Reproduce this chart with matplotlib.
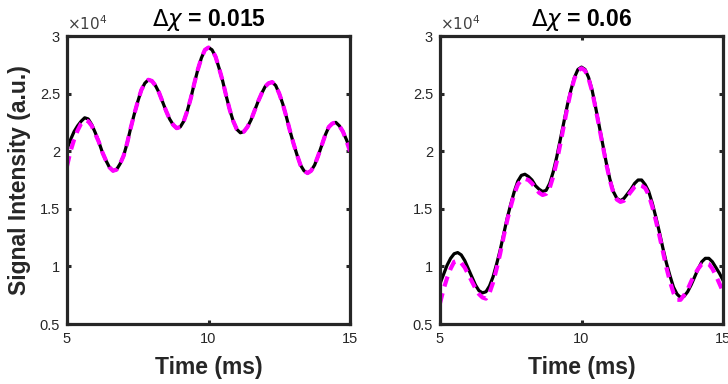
import numpy as np
import matplotlib
matplotlib.use("Agg")
import matplotlib.pyplot as plt

plt.rcParams.update({
    "font.family": ["Liberation Sans", "DejaVu Sans"],
    "mathtext.fontset": "dejavusans",
    "lines.scale_dashes": False,
})

DARK = "#262626"
MAGENTA = "#ff00ff"

# time axis (ms), 0.125 ms steps
t = np.arange(5, 15.001, 0.125)

# signal (x1e4), dchi = 0.015
sig_015_meas = [2.02, 2.10, 2.17, 2.22, 2.26, 2.29, 2.28, 2.23, 2.16, 2.08,
                1.99, 1.92, 1.86, 1.83, 1.84, 1.89, 1.96, 2.07, 2.20, 2.32,
                2.43, 2.53, 2.59, 2.62, 2.61, 2.57, 2.51, 2.43, 2.35, 2.28,
                2.23, 2.20, 2.21, 2.26, 2.35, 2.46, 2.59, 2.71, 2.81, 2.88,
                2.90, 2.88, 2.82, 2.72, 2.61, 2.48, 2.36, 2.26, 2.19, 2.16,
                2.17, 2.21, 2.27, 2.35, 2.43, 2.50, 2.56, 2.59, 2.60, 2.57,
                2.50, 2.41, 2.30, 2.18, 2.07, 1.97, 1.88, 1.83, 1.81, 1.83,
                1.88, 1.96, 2.05, 2.14, 2.21, 2.24, 2.25, 2.22, 2.17, 2.10,
                2.02]
sig_015_fit = [1.87, 2.00, 2.10, 2.18, 2.24, 2.27, 2.26, 2.22, 2.15, 2.08,
               1.99, 1.92, 1.86, 1.83, 1.84, 1.89, 1.96, 2.07, 2.20, 2.32,
               2.43, 2.53, 2.59, 2.62, 2.61, 2.57, 2.51, 2.43, 2.35, 2.28,
               2.23, 2.20, 2.21, 2.26, 2.35, 2.46, 2.59, 2.71, 2.81, 2.88,
               2.90, 2.88, 2.82, 2.72, 2.61, 2.48, 2.36, 2.26, 2.19, 2.16,
               2.17, 2.21, 2.27, 2.35, 2.43, 2.50, 2.56, 2.59, 2.60, 2.57,
               2.50, 2.41, 2.30, 2.18, 2.07, 1.97, 1.88, 1.83, 1.81, 1.83,
               1.88, 1.96, 2.05, 2.14, 2.21, 2.24, 2.25, 2.22, 2.17, 2.09,
               2.00]

# signal (x1e4), dchi = 0.06
sig_06_meas = [0.85, 0.93, 1.01, 1.07, 1.11, 1.12, 1.10, 1.05, 0.98, 0.91,
               0.84, 0.79, 0.77, 0.78, 0.83, 0.91, 1.02, 1.14, 1.28, 1.42,
               1.54, 1.65, 1.74, 1.79, 1.80, 1.78, 1.75, 1.70, 1.67, 1.65,
               1.66, 1.72, 1.82, 1.95, 2.10, 2.25, 2.40, 2.53, 2.64, 2.71,
               2.73, 2.71, 2.64, 2.53, 2.38, 2.22, 2.06, 1.90, 1.76, 1.65,
               1.59, 1.57, 1.59, 1.63, 1.67, 1.72, 1.75, 1.75, 1.71, 1.65,
               1.55, 1.43, 1.30, 1.16, 1.03, 0.92, 0.82, 0.76, 0.73, 0.74,
               0.78, 0.84, 0.91, 0.98, 1.04, 1.07, 1.07, 1.04, 0.99, 0.94,
               0.88]
sig_06_fit = [0.68, 0.80, 0.90, 0.98, 1.04, 1.05, 1.03, 0.99, 0.93, 0.87,
              0.81, 0.76, 0.73, 0.72, 0.77, 0.86, 0.98, 1.11, 1.26, 1.40,
              1.52, 1.63, 1.71, 1.75, 1.76, 1.75, 1.72, 1.68, 1.64, 1.62,
              1.63, 1.68, 1.78, 1.91, 2.06, 2.22, 2.38, 2.52, 2.63, 2.70,
              2.72, 2.70, 2.63, 2.52, 2.37, 2.21, 2.05, 1.89, 1.75, 1.64,
              1.58, 1.56, 1.57, 1.61, 1.65, 1.69, 1.71, 1.70, 1.68, 1.62,
              1.52, 1.40, 1.27, 1.13, 0.99, 0.87, 0.77, 0.71, 0.71, 0.75,
              0.80, 0.87, 0.93, 0.98, 1.02, 1.03, 1.02, 0.98, 0.92, 0.85,
              0.78]

panels = [
    (r"$\Delta\chi$ = 0.015", sig_015_meas, sig_015_fit),
    (r"$\Delta\chi$ = 0.06", sig_06_meas, sig_06_fit),
]

fig = plt.figure(figsize=(7.28, 3.84), dpi=100)
lefts = [67 / 728, 440 / 728]

for i, (title, meas, fit) in enumerate(panels):
    ax = fig.add_axes([lefts[i], 60 / 384, 283 / 728, 288 / 384])
    ax.plot(t, meas, color="black", lw=2.3, solid_joinstyle="round")
    ax.plot(t, fit, color=MAGENTA, lw=3.0, dashes=(7.5, 5.0), dash_capstyle="butt")

    ax.set_xlim(5, 15)
    ax.set_ylim(0.5, 3)
    ax.set_xticks([5, 10, 15])
    ax.set_yticks([0.5, 1, 1.5, 2, 2.5, 3])
    ax.set_xticklabels(["5", "10", "15"])
    ax.set_yticklabels(["0.5", "1", "1.5", "2", "2.5", "3"])
    ax.tick_params(direction="in", top=True, right=True, length=3, width=2.2,
                   colors=DARK, labelsize=10.5)
    ax.tick_params(axis="x", pad=6)
    ax.tick_params(axis="y", pad=5)
    for sp in ax.spines.values():
        sp.set_linewidth(2.3)
        sp.set_color(DARK)

    ax.text(0.0, 1.01, r"$\times10^{4}$", transform=ax.transAxes, fontsize=11,
            color="#404040", ha="left", va="bottom")
    ax.set_title(title, fontsize=16.5, fontweight="bold", color="black", pad=7)
    ax.set_xlabel("Time (ms)", fontsize=16.5, fontweight="bold", color=DARK, labelpad=7)
    if i == 0:
        ax.set_ylabel("Signal Intensity (a.u.)", fontsize=16.5, fontweight="bold",
                      color=DARK, labelpad=6)

fig.savefig("out.png", dpi=100)
